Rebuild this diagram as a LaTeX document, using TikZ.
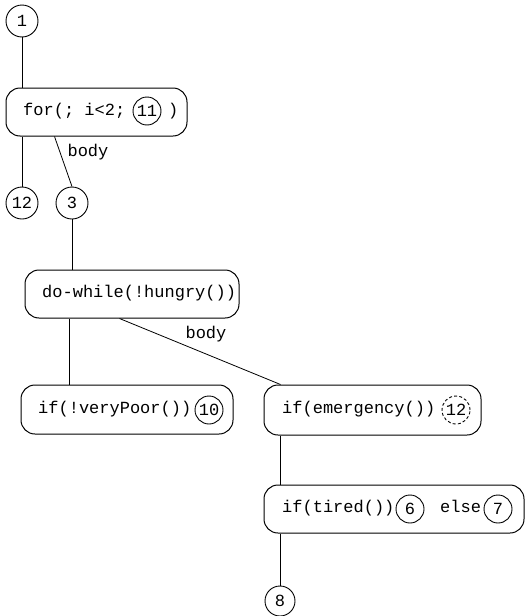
\documentclass[tikz,border=0pt]{standalone}
\usepackage{fontspec}
\setmonofont{Liberation Mono}
\begin{document}
\begin{tikzpicture}[x=1pt,y=-1pt,
  every node/.style={font=\ttfamily\fontsize{17}{20}\selectfont},
  stmt/.style={draw, rounded corners=14pt, line width=1pt, inner sep=0pt},
  num/.style={draw, circle, inner sep=0pt, minimum size=28pt, line width=0.9pt},
  leaf/.style={num, minimum size=32pt},
  code/.style={anchor=mid west, inner sep=0pt, yshift=-1.5pt},
  lbl/.style={inner sep=0pt},
  edge/.style={line width=0.8pt}]
\useasboundingbox (0,0) rectangle (527,616);

% statement boxes
\node[stmt, minimum width=181pt, minimum height=48pt] (forbox) at (96.5,112) {};
\node[stmt, minimum width=214pt, minimum height=48pt] (dobox)  at (132,294) {};
\node[stmt, minimum width=212pt, minimum height=49pt] (vpbox)  at (127,409.5) {};
\node[stmt, minimum width=217pt, minimum height=50pt] (embox)  at (372.5,410) {};
\node[stmt, minimum width=260pt, minimum height=48pt] (tirbox) at (394,509) {};

% box contents
\node[code] (fortxt) at (23,112) {for(; i<2;};
\node[num]  (c11) at (147,111) {11};
\node[code] (forend) at (168,112) {)};

\node[code] (dotxt) at (42,294) {do-while(!hungry())};

\node[code] (vptxt) at (38,410) {if(!veryPoor())};
\node[num]  (c10) at (209,410) {10};

\node[code] (emtxt) at (282,410) {if(emergency())};
\node[num, dashed, dash pattern=on 3pt off 2.2pt] (c12d) at (456,410) {12};

\node[code] (tirtxt) at (282,509) {if(tired())};
\node[num]  (c6) at (410,509) {6};
\node[code] (elsetxt) at (440,509) {else};
\node[num]  (c7) at (498,509) {7};

% standalone numbered nodes
\node[leaf] (n1)  at (22,21)  {1};
\node[leaf] (n12) at (22,203) {12};
\node[leaf] (n3)  at (72,203) {3};
\node[num, minimum size=30pt] (n8) at (280,601) {8};

% edge labels
\node[lbl] (body1) at (88,152) {body};
\node[lbl] (body2) at (206,334) {body};

% connectors
\draw[edge] (n1.south) -- (n1.south |- forbox.north);
\draw[edge] (forbox.south -| n12) -- (n12.north);
\draw[edge] ([xshift=49pt]forbox.south west) -- (n3.north);
\draw[edge] (n3.south) -- (n3.south |- dobox.north);
\draw[edge] ([xshift=45pt]dobox.south west) -- ([xshift=45pt]dobox.south west |- vpbox.north);
\draw[edge] ([xshift=95pt]dobox.south west) -- ([xshift=17pt]embox.north west);
\draw[edge, line width=0.5pt] ([xshift=17pt]embox.south west) -- ([xshift=17pt]embox.south west |- tirbox.north);
\draw[edge] (tirbox.south -| n8) -- (n8.north);
\end{tikzpicture}
\end{document}
